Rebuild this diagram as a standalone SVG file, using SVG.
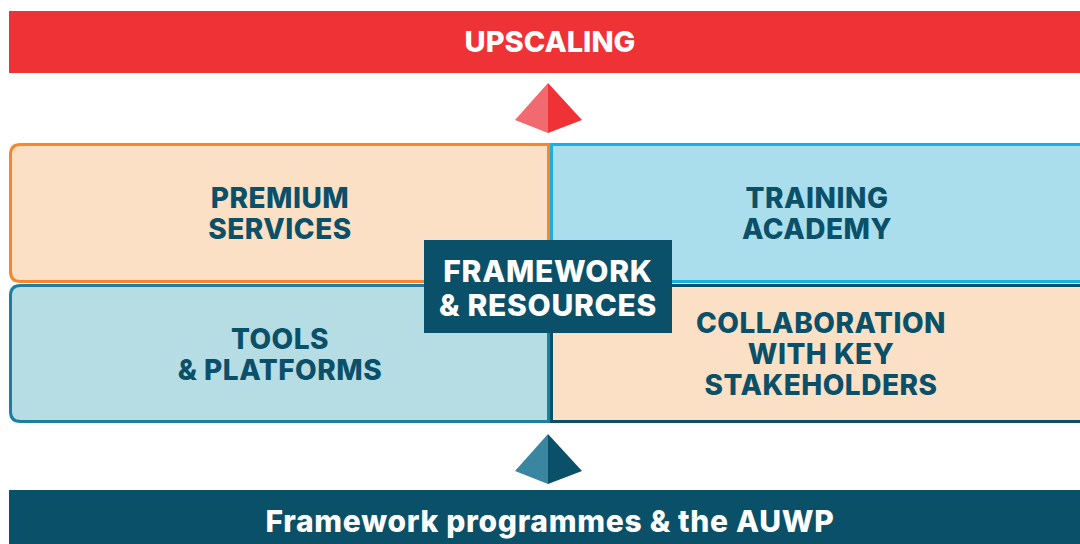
<svg xmlns="http://www.w3.org/2000/svg" width="1080" height="544" viewBox="0 0 1080 544">
<style>
.lbl{font-family:Inter,"Open Sans","Liberation Sans",sans-serif;font-weight:800;font-size:28px;fill:#0B5069;text-anchor:middle;letter-spacing:0.5px}
.wht{font-family:Inter,"Open Sans","Liberation Sans",sans-serif;font-weight:800;fill:#FFFFFF;text-anchor:middle}
</style>
<rect width="1080" height="544" fill="#FFFFFF"/>
<g id="upscaling">
<rect x="9" y="11" width="1075" height="62" fill="#EE3235"/>
<text class="wht" x="550" y="52" font-size="29">UPSCALING</text>
</g>
<g id="connectors">
<polygon points="548,83 515,120 548,133" fill="#F06A70"/>
<polygon points="548,83 582,120 548,133" fill="#EE3235"/>
<polygon points="548,434 515,471 548,484" fill="#3A85A0"/>
<polygon points="548,434 582,471 548,484" fill="#0B5069"/>
</g>
<g id="premium">
<path d="M548.5,144.5 H20.5 Q10.5,144.5 10.5,154.5 V271.5 Q10.5,281.5 20.5,281.5 H548.5 Z" fill="#FCE0C6" stroke="#F4872F" stroke-width="3"/>
<text class="lbl" x="280" y="208">PREMIUM</text>
<text class="lbl" x="280" y="239">SERVICES</text>
</g>
<g id="training">
<rect x="551.5" y="144.5" width="540" height="137" fill="#ABDEED" stroke="#1CAEDF" stroke-width="3"/>
<text class="lbl" x="817" y="208">TRAINING</text>
<text class="lbl" x="817" y="239">ACADEMY</text>
</g>
<g id="tools">
<path d="M548.5,285.5 H20.5 Q10.5,285.5 10.5,295.5 V411.5 Q10.5,421.5 20.5,421.5 H548.5 Z" fill="#B6DCE4" stroke="#1A7FA0" stroke-width="3"/>
<text class="lbl" x="280" y="349">TOOLS</text>
<text class="lbl" x="280" y="380">&amp; PLATFORMS</text>
</g>
<g id="collaboration">
<rect x="551.5" y="285.5" width="540" height="136" fill="#FCE0C6" stroke="#0B5069" stroke-width="3"/>
<text class="lbl" x="821" y="333">COLLABORATION</text>
<text class="lbl" x="821" y="364">WITH KEY</text>
<text class="lbl" x="821" y="395">STAKEHOLDERS</text>
</g>
<g id="framework">
<rect x="424" y="240" width="248" height="93" fill="#0B5069"/>
<text class="wht" x="548" y="282" font-size="30" letter-spacing="0.7">FRAMEWORK</text>
<text class="wht" x="548" y="316" font-size="30" letter-spacing="0.7">&amp; RESOURCES</text>
</g>
<g id="programmes">
<rect x="9" y="490" width="1075" height="60" fill="#0B5069"/>
<text class="wht" x="550" y="532" font-size="30" letter-spacing="0.7">Framework programmes &amp; the AUWP</text>
</g>
</svg>
